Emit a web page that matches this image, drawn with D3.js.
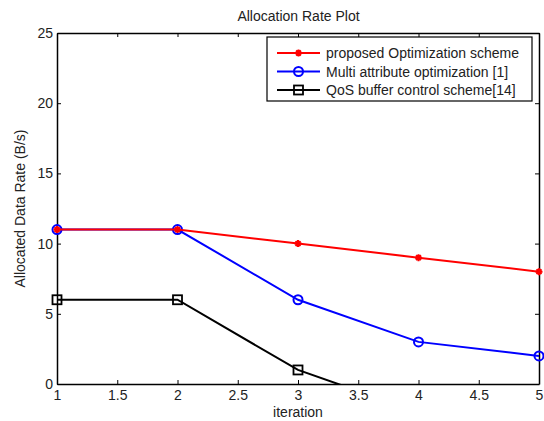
<!DOCTYPE html>
<html>
<head>
<meta charset="utf-8">
<script src="https://cdn.jsdelivr.net/npm/d3@7"></script>
<style>
  body { margin: 0; background: #fff; }
  svg { font-family: "Liberation Sans", Arial, sans-serif; }
</style>
</head>
<body>
<svg id="chart" width="544" height="421"></svg>
<script>
// Iterations along the x axis
const iterations = [1, 2, 3, 4, 5];
// Allocated data rate (B/s) per scheme
const proposed = [11, 11, 10, 9, 8];
const multiAttr = [11, 11, 6, 3, 2];
const qosBuffer = [6, 6, 1, -2, -5];

const seriesNames = [
  "proposed Optimization scheme",
  "Multi attribute optimization [1]",
  "QoS buffer control scheme[14]"
];
const xTicks = [1, 1.5, 2, 2.5, 3, 3.5, 4, 4.5, 5];
const yTicks = [0, 5, 10, 15, 20, 25];

const svg = d3.select("#chart");
const L = 57, R = 539, T = 33, B = 384;
const fs = 14;

const x = d3.scaleLinear().domain([1, 5]).range([L, R]);
const y = d3.scaleLinear().domain([0, 25]).range([B, T]);

svg.append("defs").append("clipPath").attr("id", "plotClip")
  .append("rect").attr("x", L).attr("y", T).attr("width", R - L).attr("height", B - T);

// Axes with inward ticks, mirrored on top/right
const tickLen = 4;
const fmt = d => String(d);
const gx = svg.append("g").attr("transform", `translate(0,${B})`)
  .call(d3.axisBottom(x).tickValues(xTicks).tickFormat(fmt).tickSizeInner(-tickLen).tickSizeOuter(0).tickPadding(6));
const gxTop = svg.append("g").attr("transform", `translate(0,${T})`)
  .call(d3.axisTop(x).tickValues(xTicks).tickFormat("").tickSizeInner(-tickLen).tickSizeOuter(0));
const gy = svg.append("g").attr("transform", `translate(${L},0)`)
  .call(d3.axisLeft(y).tickValues(yTicks).tickFormat(fmt).tickSizeInner(-tickLen).tickSizeOuter(0).tickPadding(4));
const gyR = svg.append("g").attr("transform", `translate(${R},0)`)
  .call(d3.axisRight(y).tickValues(yTicks).tickFormat("").tickSizeInner(-tickLen).tickSizeOuter(0));

[gx, gxTop, gy, gyR].forEach(g => {
  g.select(".domain").attr("stroke", "#000").attr("stroke-width", 1.5);
  g.selectAll(".tick line").attr("stroke", "#000").attr("stroke-width", 1);
  g.selectAll("text").attr("font-size", fs).attr("fill", "#222")
    .attr("font-family", "Liberation Sans, Arial, sans-serif");
});

// Titles
svg.append("text").attr("x", (L + R) / 2 + 0.5).attr("y", 20.5).attr("text-anchor", "middle")
  .attr("font-size", fs).attr("fill", "#222").text("Allocation Rate Plot");
svg.append("text").attr("x", (L + R) / 2).attr("y", 417).attr("text-anchor", "middle")
  .attr("font-size", fs).attr("fill", "#222").text("iteration");
svg.append("text").attr("transform", `translate(25,${(T + B) / 2}) rotate(-90)`)
  .attr("text-anchor", "middle").attr("font-size", fs).attr("fill", "#222")
  .text("Allocated Data Rate (B/s)");

const series = [
  { name: seriesNames[0], values: proposed, color: "#ff0000", marker: "star" },
  { name: seriesNames[1], values: multiAttr, color: "#0000ff", marker: "circle" },
  { name: seriesNames[2], values: qosBuffer, color: "#000000", marker: "square" }
];

const line = d3.line().x((d, i) => x(iterations[i])).y(d => y(d));

function drawMarker(g, type, cx, cy, color) {
  if (type === "circle") {
    g.append("circle").attr("cx", cx).attr("cy", cy).attr("r", 4.5)
      .attr("fill", "none").attr("stroke", color).attr("stroke-width", 2);
  } else if (type === "square") {
    g.append("rect").attr("x", cx - 4.5).attr("y", cy - 4.5).attr("width", 9).attr("height", 9)
      .attr("fill", "none").attr("stroke", color).attr("stroke-width", 1.8);
  } else {
    const s = 3.5;
    const p = `M${cx - s},${cy}L${cx + s},${cy}M${cx},${cy - s}L${cx},${cy + s}` +
      `M${cx - s * 0.7},${cy - s * 0.7}L${cx + s * 0.7},${cy + s * 0.7}` +
      `M${cx - s * 0.7},${cy + s * 0.7}L${cx + s * 0.7},${cy - s * 0.7}`;
    g.append("path").attr("d", p).attr("stroke", color).attr("stroke-width", 2).attr("fill", "none");
  }
}

const plot = svg.append("g");
series.slice().reverse().forEach(s => {
  plot.append("path").datum(s.values).attr("d", line)
    .attr("clip-path", "url(#plotClip)")
    .attr("fill", "none").attr("stroke", s.color).attr("stroke-width", 2);
  const mg = plot.append("g");
  s.values.forEach((v, i) => {
    if (v >= 0 && v <= 25) drawMarker(mg, s.marker, x(iterations[i]), y(v), s.color);
  });
});

// Legend
const lg = svg.append("g");
lg.append("rect").attr("x", 267).attr("y", 37).attr("width", 265).attr("height", 64)
  .attr("fill", "#fff").attr("stroke", "#000").attr("stroke-width", 1.2);
series.forEach((s, i) => {
  const ly = 53 + i * 18.5;
  lg.append("line").attr("x1", 277).attr("x2", 320).attr("y1", ly).attr("y2", ly)
    .attr("stroke", s.color).attr("stroke-width", 2);
  drawMarker(lg, s.marker, 298.5, ly, s.color);
  lg.append("text").attr("x", 326).attr("y", ly + 5).attr("font-size", fs).attr("fill", "#222")
    .text(s.name);
});
</script>
</body>
</html>
